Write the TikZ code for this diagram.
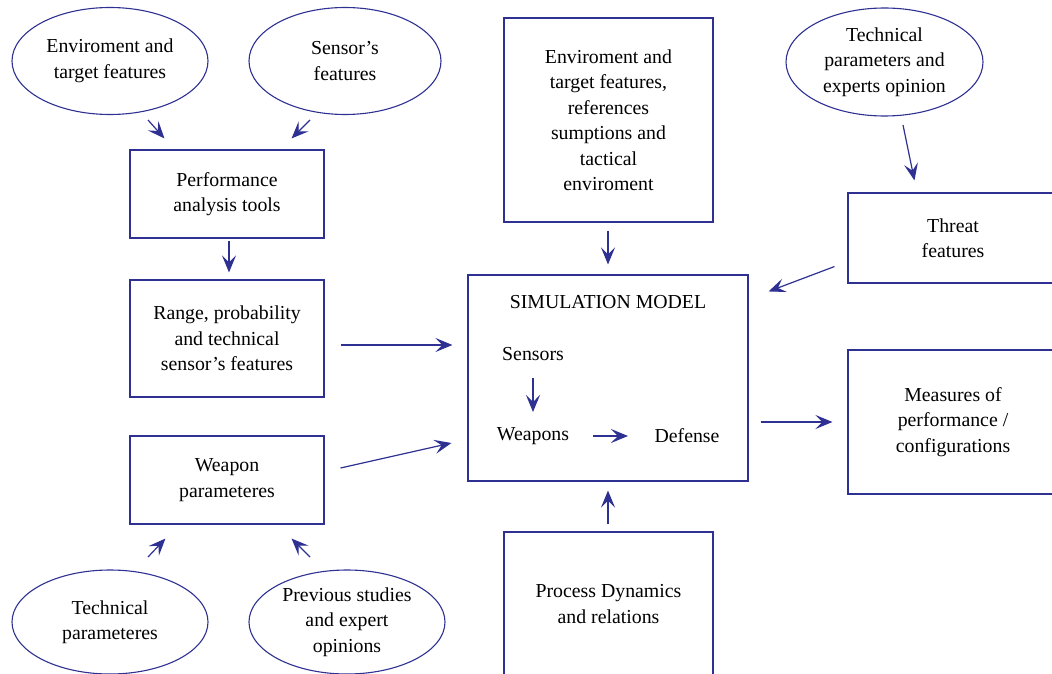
\documentclass[tikz,border=0pt]{standalone}
\usepackage{fontspec}
\setmainfont{Liberation Serif}
\usetikzlibrary{shapes.geometric,arrows.meta}
\definecolor{dblue}{HTML}{2E3192}
\tikzset{
  txt/.style={font=\fontsize{19.8}{25.5}\selectfont, align=center, text=black},
  oval/.style={ellipse, draw=dblue, line width=1.1pt, inner sep=0pt, txt},
  rbox/.style={rectangle, draw=dblue, line width=1.1pt, inner sep=0pt, txt},
  arr/.style={draw=dblue, line width=1.2pt, -{Stealth[length=17pt,width=14pt,inset=7pt]}},
}
\begin{document}
\begin{tikzpicture}[x=1pt,y=-1pt]
\clip (0,0) rectangle (1052,674);
\fill[white] (0,0) rectangle (1052,674);

% left column
\node[oval, minimum width=196pt, minimum height=107pt] (e1) at (110,61) {Enviroment and\\target features};
\node[oval, minimum width=192pt, minimum height=107pt] (e2) at (345,61) {Sensor's\\features};
\node[rbox, minimum width=194pt, minimum height=88pt] (pat) at (227,194) {Performance\\analysis tools};
\node[rbox, minimum width=194pt, minimum height=117pt] (rng) at (227,338.5) {Range, probability\\and technical\\sensor's features};
\node[rbox, minimum width=194pt, minimum height=88pt] (wpn) at (227,480) {Weapon\\parameteres};
\node[oval, minimum width=196pt, minimum height=104pt] (e3) at (110,622) {Technical\\parameteres};
\node[oval, minimum width=196pt, minimum height=104pt] (e4) at (347,622) {Previous studies\\and expert\\opinions};

% middle column
\node[rbox, minimum width=209pt, minimum height=204pt] (env) at (608.5,120) {Enviroment and\\target features,\\references\\sumptions and\\tactical\\enviroment};
\node[rbox, minimum width=280pt, minimum height=206pt] (sim) at (608,378) {};
\node[txt] (simt) at (608,302) {SIMULATION MODEL};
\node[txt] (sens) at (533,354) {Sensors};
\node[txt] (weap) at (533,436) {Weapons};
\node[txt] (def) at (687,436) {Defense};
\node[rbox, minimum width=209pt, minimum height=144pt] (proc) at (608.5,604) {Process Dynamics\\and relations};

% right column
\node[oval, minimum width=197pt, minimum height=108pt] (e5) at (884.5,62) {Technical\\parameters and\\experts opinion};
\node[rbox, minimum width=210pt, minimum height=90pt] (thr) at (953,238) {Threat\\features};
\node[rbox, minimum width=210pt, minimum height=144pt] (meas) at (953,422) {Measures of\\performance /\\configurations};

% connectors
\draw[arr] ([shift={(38,59)}]e1.center) -- ([shift={(35,-11)}]pat.north west);
\draw[arr] ([shift={(-35,59)}]e2.center) -- ([shift={(-33,-11)}]pat.north east);
\draw[arr] ([shift={(2,2)}]pat.south) -- ([shift={(2,-7)}]rng.north);
\draw[arr] ([shift={(16,6.5)}]rng.east) -- ([shift={(-15,-33)}]sim.west);
\draw[arr] ([shift={(16,-12)}]wpn.east) -- ([shift={(-16,65)}]sim.west);
\draw[arr] ([shift={(38,-65)}]e3.center) -- ([shift={(36,14)}]wpn.south west);
\draw[arr] ([shift={(-37,-65)}]e4.center) -- ([shift={(-33,14)}]wpn.south east);
\draw[arr] ([shift={(-0.5,8)}]env.south) -- ([shift={(0,-10)}]sim.north);
\draw[arr] ([shift={(-0.5,-7)}]proc.north) -- ([shift={(0,9)}]sim.south);
\draw[arr] ([shift={(-13,-17)}]thr.south west) -- ([shift={(20,17)}]sim.north east);
\draw[arr] ([shift={(18.5,63)}]e5.center) -- ([shift={(67,-12)}]thr.north west);
\draw[arr] ([shift={(12,44)}]sim.east) -- ([shift={(-15,0)}]meas.west);
\draw[arr] ([shift={(0,24)}]sens.center) -- ([shift={(0,-24)}]weap.center);
\draw[arr] ([shift={(60,0)}]weap.center) -- ([shift={(-59,0)}]def.center);
\end{tikzpicture}
\end{document}
